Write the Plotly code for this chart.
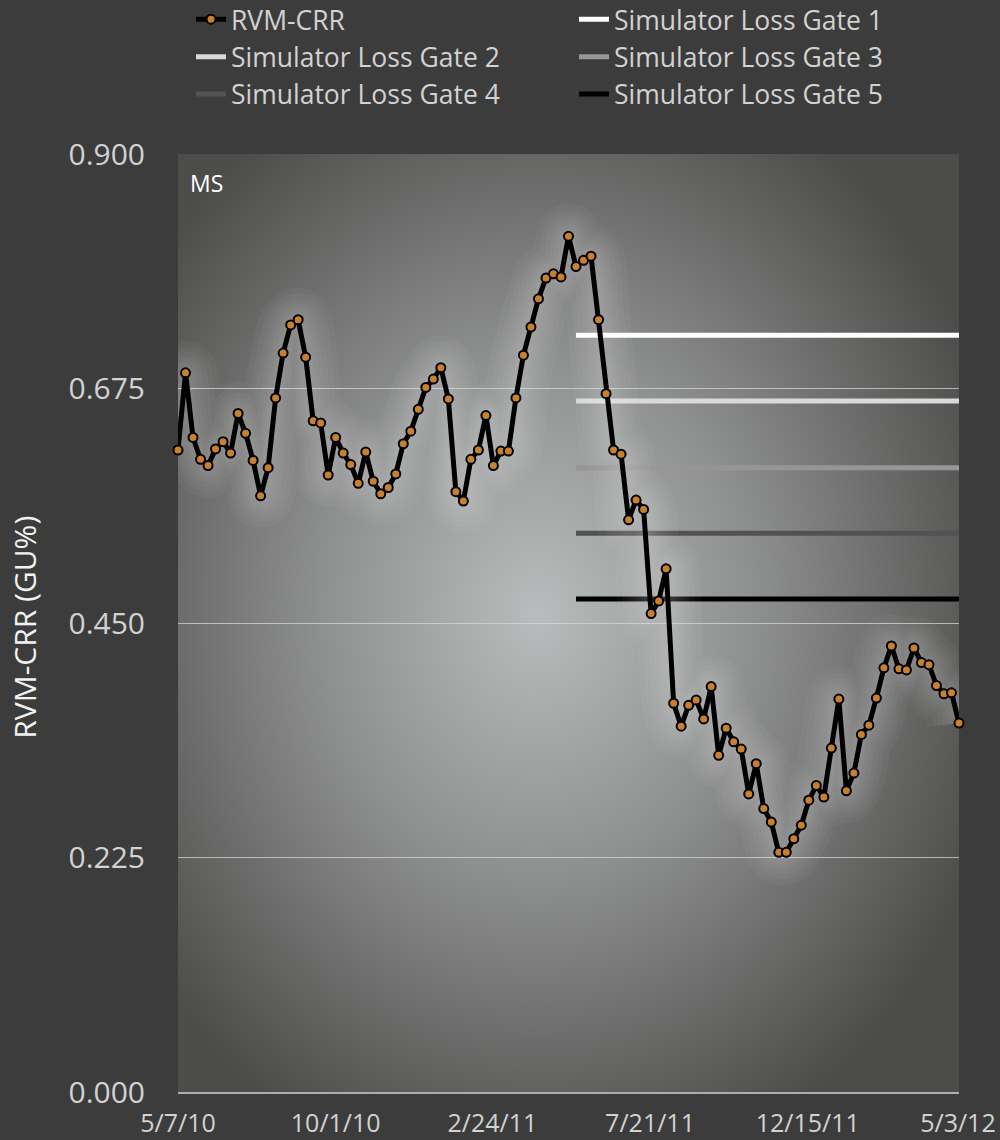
import base64
import pandas as pd
import plotly.graph_objects as go

# weekly RVM-CRR readings (GU%)
start_date = "2010-05-07"
rvm_crr = [
    0.616, 0.690, 0.628, 0.607, 0.601, 0.617, 0.624, 0.613, 0.651, 0.632,
    0.606, 0.572, 0.599, 0.666, 0.709, 0.736, 0.741, 0.705, 0.644, 0.642,
    0.592, 0.628, 0.613, 0.602, 0.584, 0.614, 0.586, 0.574, 0.580, 0.593,
    0.622, 0.634, 0.655, 0.676, 0.684, 0.695, 0.665, 0.576, 0.567, 0.607,
    0.616, 0.649, 0.601, 0.615, 0.615, 0.666, 0.707, 0.734, 0.761, 0.781,
    0.785, 0.782, 0.821, 0.792, 0.798, 0.802, 0.741, 0.670, 0.616, 0.612,
    0.549, 0.568, 0.559, 0.459, 0.471, 0.502, 0.373, 0.351, 0.371, 0.376,
    0.358, 0.389, 0.323, 0.349, 0.336, 0.329, 0.286, 0.315, 0.272, 0.259,
    0.230, 0.230, 0.243, 0.256, 0.280, 0.294, 0.283, 0.330, 0.377, 0.289,
    0.306, 0.343, 0.352, 0.378, 0.407, 0.428, 0.406, 0.405, 0.426, 0.412,
    0.410, 0.390, 0.382, 0.383, 0.354,
]
dates = pd.date_range(start_date, periods=len(rvm_crr), freq="7D")

gate_names = ["Simulator Loss Gate 1", "Simulator Loss Gate 2", "Simulator Loss Gate 3",
              "Simulator Loss Gate 4", "Simulator Loss Gate 5"]
gate_values = [0.726, 0.663, 0.599, 0.536, 0.473]
gate_colors = ["#ffffff", "#d9d9d9", "#969696", "#525252", "#000000"]
gate_start = "2011-05-13"
gate_end = "2012-05-04"

tick_dates = ["2010-05-07", "2010-10-01", "2011-02-24", "2011-07-21", "2011-12-15", "2012-05-03"]
tick_labels = ["5/7/10", "10/1/10", "2/24/11", "7/21/11", "12/15/11", "5/3/12"]
y_ticks = [0.0, 0.225, 0.45, 0.675, 0.9]

FONT = "Open Sans"

# radial gradient for the plot background
svg = (
    "<svg xmlns='http://www.w3.org/2000/svg' width='781' height='938' "
    "viewBox='0 0 781 938' preserveAspectRatio='none'>"
    "<defs><radialGradient id='g' cx='0.46' cy='0.49' r='0.62'>"
    "<stop offset='0' stop-color='#b9bcbc'/>"
    "<stop offset='0.45' stop-color='#8e908f'/>"
    "<stop offset='1' stop-color='#4c4c4a'/>"
    "</radialGradient></defs>"
    "<rect width='781' height='938' fill='url(#g)'/></svg>"
)
bg_src = "data:image/svg+xml;base64," + base64.b64encode(svg.encode()).decode()

fig = go.Figure()

for name, val, col in zip(gate_names, gate_values, gate_colors):
    fig.add_trace(go.Scatter(x=[gate_start, gate_end], y=[val, val], mode="lines",
                             name=name, line=dict(color=col, width=5),
                             hoverinfo="skip", legendrank=2))

# soft glow behind the series
for w in [64, 52, 42, 32, 24, 16, 10]:
    fig.add_trace(go.Scatter(x=dates, y=rvm_crr, mode="lines",
                             line=dict(color="rgba(255,255,255,0.034)", width=w,
                                       shape="spline", smoothing=1.0),
                             showlegend=False, hoverinfo="skip"))

fig.add_trace(go.Scatter(x=dates, y=rvm_crr, mode="lines+markers", name="RVM-CRR",
                         line=dict(color="#000000", width=5),
                         marker=dict(size=9, color="#c8802f",
                                     line=dict(color="#000000", width=2)),
                         cliponaxis=False, legendrank=1))

fig.add_annotation(text="MS", xref="paper", yref="paper", x=0.013, y=0.988,
                   xanchor="left", yanchor="top", showarrow=False,
                   font=dict(family=FONT, size=23, color="#ffffff"))

# y axis title, placed by hand
fig.add_annotation(text="RVM-CRR (GU%)", xref="paper", yref="paper",
                   x=-0.196, y=0.496, xanchor="center", yanchor="middle",
                   textangle=-90, showarrow=False,
                   font=dict(family=FONT, size=30, color="#f2f2f2"))

fig.update_layout(
    width=1000, height=1140,
    paper_bgcolor="#3c3c3c", plot_bgcolor="#6a6b6a",
    margin=dict(l=178, r=41, t=154, b=48, autoexpand=False),
    font=dict(family=FONT, color="#d2d2d2", size=24),
    images=[dict(source=bg_src, xref="paper", yref="paper", x=0, y=1,
                 sizex=1, sizey=1, xanchor="left", yanchor="top",
                 sizing="stretch", layer="below")],
    legend=dict(orientation="h", xref="container", yref="paper",
                x=0.191, y=1.169, xanchor="left", yanchor="top",
                entrywidth=338, entrywidthmode="pixels",
                font=dict(family=FONT, size=26.5, color="#d2d2d2"),
                bgcolor="rgba(0,0,0,0)", traceorder="normal"),
    showlegend=True,
)

fig.update_xaxes(type="date", range=[start_date, gate_end],
                 tickvals=tick_dates, ticktext=tick_labels,
                 showgrid=False, zeroline=False,
                 showline=True, linecolor="#a9aeae", linewidth=2,
                 ticks="", ticklabelstandoff=8,
                 tickfont=dict(family=FONT, size=25, color="#d2d2d2"))

fig.update_yaxes(range=[0, 0.9], tickvals=y_ticks, tickformat=".3f",
                 showgrid=True, gridcolor="rgba(215,215,215,0.75)", gridwidth=1,
                 zeroline=False, ticks="", ticklabelstandoff=32,
                 tickfont=dict(family=FONT, size=30, color="#d2d2d2"))

# drop the default page margin so the figure sits at the window's corner
fig.write_html("out.html", config={"displayModeBar": False},
               post_script="document.body.style.margin='0';document.body.style.overflow='hidden';")
